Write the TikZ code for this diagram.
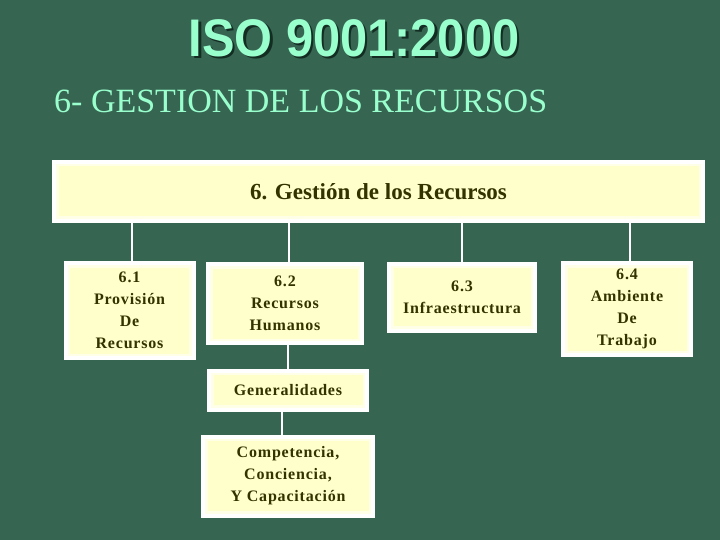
\documentclass[tikz,border=0pt]{standalone}
\usepackage{fontspec}
\setmainfont{Liberation Serif}
\newfontfamily\titlefont{Liberation Sans}
\newfontfamily\boxfont[LetterSpace=5]{Liberation Serif}
\definecolor{bg}{RGB}{54,101,82}
\definecolor{mint}{RGB}{153,255,204}
\definecolor{shade}{RGB}{20,45,35}
\definecolor{boxfill}{RGB}{255,255,204}
\definecolor{boxtext}{RGB}{51,51,0}
\tikzset{
  orgbox/.style={draw=white, line width=4pt, fill=boxfill, inner sep=0pt,
    text=boxtext, align=center, font=\boxfont\bfseries\fontsize{16}{22}\selectfont,
    path picture={\draw[line width=9pt, white!55!boxfill]
      (path picture bounding box.south west) rectangle (path picture bounding box.north east);}},
  link/.style={draw=white, line width=1.6pt},
  titletext/.style={font=\titlefont\bfseries\fontsize{46}{50}\selectfont, yscale=1.15, xscale=1.06}
}
\begin{document}
\begin{tikzpicture}[x=1pt,y=-1pt]
\useasboundingbox (0,0) rectangle (720,540);
\fill[bg] (0,0) rectangle (720,540);
% titles
\node[text=shade, titletext] (titleshadow) at (356.5,40.5) {ISO 9001:2000};
\node[text=mint, titletext] (title) at (354,38) {ISO 9001:2000};
\node[text=mint, anchor=west, inner sep=0pt, font=\fontsize{34}{36}\selectfont] (subtitle) at (54,101) {6- GESTION DE LOS RECURSOS};
% boxes
\node[orgbox, minimum width=649pt, minimum height=59pt, font=\bfseries\fontsize{23}{26}\selectfont] (top) at (378.5,191.5) {6. Gestión de los Recursos};
\node[orgbox, minimum width=128pt, minimum height=95pt] (b61) at (129.5,310.5) {6.1\\Provisión\\De\\Recursos};
\node[orgbox, minimum width=154pt, minimum height=79pt] (b62) at (285,303.5) {6.2\\Recursos\\Humanos};
\node[orgbox, minimum width=146pt, minimum height=67pt] (b63) at (462,297) {6.3\\Infraestructura};
\node[orgbox, minimum width=128pt, minimum height=92pt] (b64) at (627,309) {6.4\\Ambiente\\De\\Trabajo};
\node[orgbox, minimum width=158pt, minimum height=39pt] (gen) at (288,390) {Generalidades};
\node[orgbox, minimum width=170pt, minimum height=79pt] (comp) at (288,476) {Competencia,\\Conciencia,\\Y Capacitación};
% connectors
\draw[link] ([xshift=2.5pt]b61.north |- top.south) -- ([xshift=2.5pt]b61.north);
\draw[link] ([xshift=4pt]b62.north |- top.south) -- ([xshift=4pt]b62.north);
\draw[link] (b63.north |- top.south) -- (b63.north);
\draw[link] ([xshift=3pt]b64.north |- top.south) -- ([xshift=3pt]b64.north);
\draw[link] ([xshift=3pt]b62.south) -- ([xshift=3pt]b62.south |- gen.north);
\draw[link] ([xshift=-6pt]gen.south) -- ([xshift=-6pt]gen.south |- comp.north);
\end{tikzpicture}
\end{document}
